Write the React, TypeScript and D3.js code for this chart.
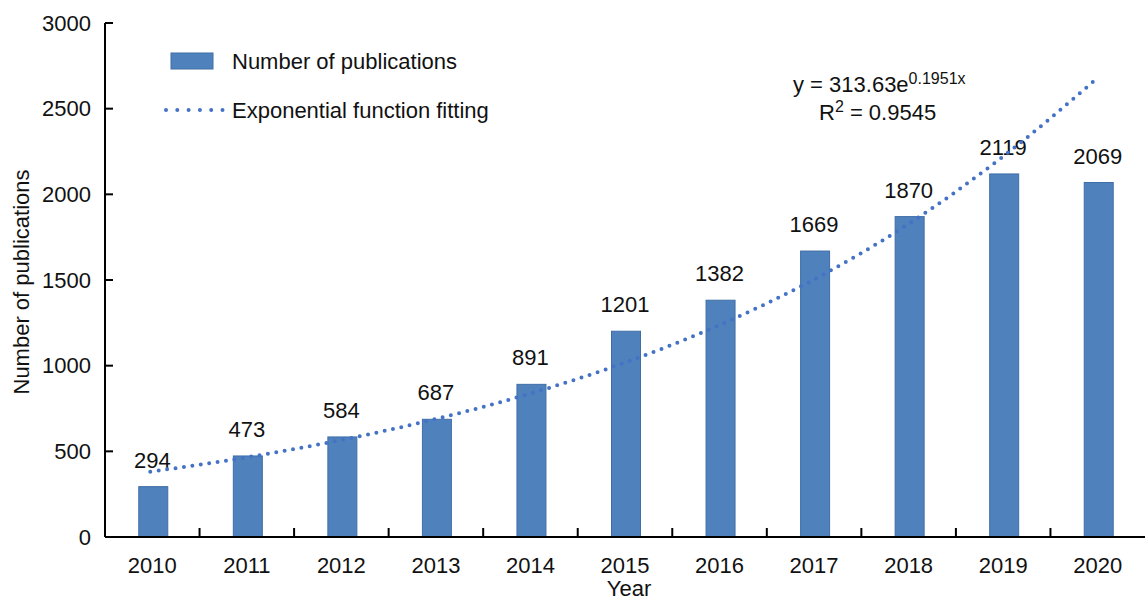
import React from 'react';
import * as d3 from 'd3';

// chart data
const years = ['2010', '2011', '2012', '2013', '2014', '2015', '2016', '2017', '2018', '2019', '2020'];
const publications = [294, 473, 584, 687, 891, 1201, 1382, 1669, 1870, 2119, 2069];
// fitted curve values at each year
const fitValues = [381, 463, 564, 686, 834, 1014, 1232, 1497, 1820, 2212, 2670];
const yTicks = [0, 500, 1000, 1500, 2000, 2500, 3000];

const svgWidth = 1145;
const svgHeight = 602;
const left = 105;
const right = 1145;
const top = 23;
const bottom = 537;
const barColor = '#4f81bd';
const barStroke = '#3f6ea6';
const fitColor = '#4472c4';
const font = '"Liberation Sans", Arial, sans-serif';
const fs = 22;

const x = d3.scaleBand<string>().domain(years).range([left, right]);
const y = d3.scaleLinear().domain([0, 3000]).range([bottom, top]);
const barWidth = 29;

const fitLine = d3
  .line<number>()
  .x((_, i) => (x(years[i]) as number) + x.bandwidth() / 2 - 2)
  .y((d) => y(d))
  .curve(d3.curveMonotoneX);

export default function App() {
  const boundaries = years.slice(1).map((yr) => x(yr) as number);
  return (
    <svg
      width={svgWidth}
      height={svgHeight}
      style={{ position: 'absolute', left: 0, top: 0, background: '#fff' }}
      fontFamily={font}
    >
      {/* bars */}
      {publications.map((v, i) => {
        const cx = (x(years[i]) as number) + x.bandwidth() / 2;
        return (
          <g key={years[i]}>
            <rect
              x={cx - barWidth / 2 + 1}
              y={y(v)}
              width={barWidth}
              height={bottom - y(v)}
              fill={barColor}
              stroke={barStroke}
              strokeWidth={1}
            />
            <text x={cx} y={y(v) - 19} textAnchor="middle" fontSize={fs} fill="#111">
              {v}
            </text>
          </g>
        );
      })}

      {/* exponential fit */}
      <path
        d={fitLine(fitValues) || ''}
        fill="none"
        stroke={fitColor}
        strokeWidth={4}
        strokeDasharray="0 8.5"
        strokeLinecap="round"
      />

      {/* y axis */}
      <line x1={left} x2={left} y1={top} y2={bottom} stroke="#000" strokeWidth={2} />
      {yTicks.map((t) => (
        <g key={t}>
          <line x1={left} x2={left + 8} y1={y(t)} y2={y(t)} stroke="#000" strokeWidth={2} />
          <text x={91} y={y(t)} dy="0.35em" textAnchor="end" fontSize={fs} fill="#111">
            {t}
          </text>
        </g>
      ))}

      {/* x axis */}
      <line x1={left} x2={right} y1={bottom} y2={bottom} stroke="#000" strokeWidth={2} />
      {boundaries.map((bx, i) => (
        <line key={i} x1={bx} x2={bx} y1={bottom} y2={bottom - 9} stroke="#000" strokeWidth={2} />
      ))}
      {years.map((yr) => (
        <text
          key={yr}
          x={(x(yr) as number) + x.bandwidth() / 2}
          y={573}
          textAnchor="middle"
          fontSize={fs}
          fill="#111"
        >
          {yr}
        </text>
      ))}

      {/* axis titles */}
      <text x={(left + right) / 2 + 4} y={596} textAnchor="middle" fontSize={fs} fill="#111">
        Year
      </text>
      <text
        transform={`translate(29, ${(top + bottom) / 2 + 2}) rotate(-90)`}
        textAnchor="middle"
        fontSize={fs}
        fill="#111"
      >
        Number of publications
      </text>

      {/* legend */}
      <rect x={171} y={53} width={42} height={16} fill={barColor} stroke={barStroke} strokeWidth={1} />
      <text x={232} y={61} dy="0.35em" fontSize={fs} fill="#111">
        Number of publications
      </text>
      <line
        x1={166}
        x2={223}
        y1={110}
        y2={110}
        stroke={fitColor}
        strokeWidth={4}
        strokeDasharray="0 11.3"
        strokeLinecap="round"
      />
      <text x={232} y={110} dy="0.35em" fontSize={fs} fill="#111">
        Exponential function fitting
      </text>

      {/* fit equation */}
      <text x={793} y={92} fontSize={fs} fill="#111">
        y = 313.63e
        <tspan fontSize={16} dy={-8}>
          0.1951x
        </tspan>
      </text>
      <text x={819} y={120} fontSize={fs} fill="#111">
        R
        <tspan fontSize={16} dy={-8}>
          2
        </tspan>
        <tspan dy={8}> = 0.9545</tspan>
      </text>
    </svg>
  );
}
